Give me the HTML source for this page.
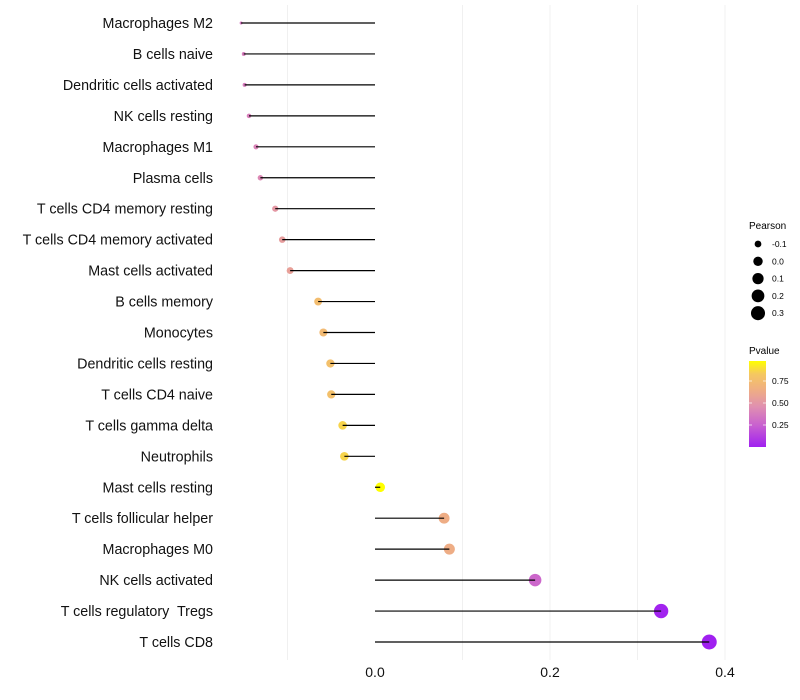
<!DOCTYPE html>
<html><head><meta charset="utf-8"><style>
html,body{margin:0;padding:0;background:#fff;}
svg{display:block;font-family:"Liberation Sans",Arial,sans-serif;}
#ylabels text{white-space:pre;}
</style></head><body>
<svg id="chart" width="800" height="700">
<g id="grid"></g>
<g id="points"></g>
<g id="marks"></g>
<g id="ylabels"></g>
<g id="xlabels"></g>
<g id="sizeLegend">
<text x="749" y="229" font-size="10" fill="#000">Pearson</text>
</g>
<g>
<text x="749" y="354" font-size="10" fill="#000">Pvalue</text>
<defs><linearGradient id="pg" x1="0" y1="1" x2="0" y2="0">
<stop offset="0" stop-color="#a020f0"/><stop offset="0.25" stop-color="#c860d0"/><stop offset="0.47" stop-color="#e090b0"/><stop offset="0.68" stop-color="#f0b080"/><stop offset="0.85" stop-color="#f5c860"/><stop offset="1" stop-color="#ffff00"/></linearGradient></defs>
<rect x="749" y="361" width="17" height="86" fill="url(#pg)"/>
<g stroke="#fff" stroke-width="1" opacity="0.7"><line x1="749" x2="752" y1="381" y2="381"/><line x1="763" x2="766" y1="381" y2="381"/><line x1="749" x2="752" y1="403" y2="403"/><line x1="763" x2="766" y1="403" y2="403"/><line x1="749" x2="752" y1="425" y2="425"/><line x1="763" x2="766" y1="425" y2="425"/></g>
<text x="772" y="384" font-size="8.5">0.75</text>
<text x="772" y="406" font-size="8.5">0.50</text>
<text x="772" y="428" font-size="8.5">0.25</text>
</g>
</svg>
<script>
const categories=["Macrophages M2","B cells naive","Dendritic cells activated","NK cells resting","Macrophages M1","Plasma cells","T cells CD4 memory resting","T cells CD4 memory activated","Mast cells activated","B cells memory","Monocytes","Dendritic cells resting","T cells CD4 naive","T cells gamma delta","Neutrophils","Mast cells resting","T cells follicular helper","Macrophages M0","NK cells activated","T cells regulatory  Tregs","T cells CD8"];
const pearson=[-0.153,-0.150,-0.149,-0.144,-0.136,-0.131,-0.114,-0.106,-0.097,-0.065,-0.059,-0.051,-0.050,-0.037,-0.035,0.006,0.079,0.085,0.183,0.327,0.382];
const pvalue=[0.40,0.42,0.42,0.43,0.45,0.47,0.55,0.58,0.60,0.78,0.76,0.80,0.80,0.88,0.88,0.99,0.68,0.68,0.33,0.08,0.07];
const xTicks=[0.0,0.2,0.4];
const xTickLabels=["0.0","0.2","0.4"];
const minorTicks=[-0.1,0.1,0.3];
const sizeLegendValues=[-0.1,0.0,0.1,0.2,0.3];
const sizeLegendLabels=["-0.1","0.0","0.1","0.2","0.3"];

const NS="http://www.w3.org/2000/svg";
const x=v=>375+v*875;
const y=i=>23+i*30.95;
const pmin=Math.min(...pearson),pmax=Math.max(...pearson);
const diam=v=>3+12*Math.sqrt(Math.max(0,(v-pmin)/(pmax-pmin)));
const stops=[[0.07,[160,32,240]],[0.3,[200,96,208]],[0.5,[224,144,176]],[0.7,[240,176,128]],[0.85,[245,200,96]],[0.99,[255,255,0]]];
function col(p){
  if(p<=stops[0][0])return `rgb(${stops[0][1]})`;
  for(let k=1;k<stops.length;k++){if(p<=stops[k][0]){const a=stops[k-1],b=stops[k],t=(p-a[0])/(b[0]-a[0]);return `rgb(${a[1].map((c,j)=>Math.round(c+(b[1][j]-c)*t)).join(',')})`;}}
  return 'rgb(255,255,0)';
}
function mk(tag,attrs,parent){const e=document.createElementNS(NS,tag);for(const k in attrs)e.setAttribute(k,attrs[k]);parent.appendChild(e);return e;}
const grid=document.getElementById('grid'),marks=document.getElementById('marks'),pts=document.getElementById('points'),yl=document.getElementById('ylabels'),xl=document.getElementById('xlabels');
minorTicks.concat(xTicks.slice(1)).forEach(v=>{
  const l=mk('line',{x1:x(v),x2:x(v),y1:5,y2:660,stroke:'#f0f0f0','stroke-width':1},grid);
  
  
});
categories.forEach((c,i)=>{
  const v=pearson[i];
  const d=mk('circle',{cx:x(v),cy:y(i),r:diam(v)/2,fill:col(pvalue[i])},pts);
  
  
  const s=mk('line',{x1:x(0),x2:x(v),y1:y(i),y2:y(i),stroke:'#000','stroke-width':1.2},marks);
  
  
  const t=mk('text',{x:213,y:y(i)+5,'text-anchor':'end','font-size':14.3,fill:'#111'},yl);
  t.setAttribute('xml:space','preserve');
  t.textContent=c;
  
  
});
xTicks.forEach((v,i)=>{
  const t=mk('text',{x:x(v),y:677,'text-anchor':'middle','font-size':14,fill:'#111'},xl);
  t.textContent=xTickLabels[i];
  
  
});
const sl=document.getElementById('sizeLegend');
sizeLegendValues.forEach((v,i)=>{
  const cy=244+i*17.3;
  const c=mk('circle',{cx:758,cy:cy,r:diam(v)/2,fill:'#000'},sl);
  
  
  const t=mk('text',{x:772,y:cy+3,'font-size':8.5},sl);
  t.textContent=sizeLegendLabels[i];
  
  
});
</script>
</body></html>
